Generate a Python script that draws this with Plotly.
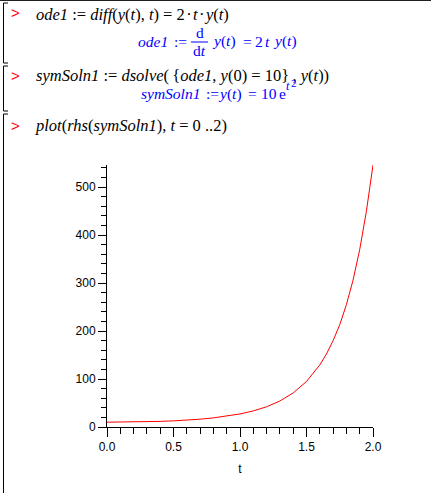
import plotly.graph_objects as go

# ---- data ----
t_vals = [0.0, 0.1, 0.2, 0.3, 0.4, 0.5, 0.6, 0.7, 0.8, 0.9, 1.0,
          1.1, 1.2, 1.3, 1.4, 1.5, 1.6, 1.65, 1.7, 1.75, 1.8, 1.85, 1.9, 1.95, 2.0]
y_vals = [10.0, 10.1, 10.4, 10.9, 11.7, 12.8, 14.3, 16.3, 19.0, 22.5, 27.2,
          33.5, 42.2, 54.2, 71.0, 94.9, 129.4, 152.0, 179.9, 213.3, 255.0, 306.0, 369.6, 449.0, 546.0]
x_tick_vals = [0.0, 0.5, 1.0, 1.5, 2.0]
x_tick_text = ["0.0", "0.5", "1.0", "1.5", "2.0"]
y_tick_vals = [0, 100, 200, 300, 400, 500]
y_tick_text = ["0", "100", "200", "300", "400", "500"]
x_label = "t"

W, H = 431, 493
L, R, T, B = 107, 373, 165, 427


def px(x):
    return (x - L) / (R - L)


def py(y):
    return (B - y) / (B - T)


fig = go.Figure()
fig.add_trace(go.Scatter(x=t_vals, y=y_vals, mode="lines",
                         line=dict(color="#ff0000", width=1), hoverinfo="skip"))

tickfont = dict(family="Liberation Sans, Arial, sans-serif", size=12, color="black")
fig.update_layout(
    width=W, height=H,
    margin=dict(l=L, r=W - R, t=T, b=H - B, pad=0),
    paper_bgcolor="white", plot_bgcolor="white",
    showlegend=False,
    xaxis=dict(range=[0, 2], showgrid=False, zeroline=False, showline=True, automargin=False,
               linecolor="black", linewidth=1, ticks="outside", ticklen=9,
               tickcolor="black", tickwidth=1, tickvals=x_tick_vals, ticktext=x_tick_text,
               tickfont=tickfont,
               minor=dict(dtick=0.1, ticks="outside", ticklen=6, tickcolor="black", tickwidth=1),
               title=dict(text=x_label, font=tickfont, standoff=11)),
    yaxis=dict(range=[0, 546], showgrid=False, zeroline=False, showline=True, automargin=False,
               linecolor="black", linewidth=1, ticks="outside", ticklen=8,
               tickcolor="black", tickwidth=1, tickvals=y_tick_vals, ticktext=y_tick_text,
               tickfont=tickfont,
               minor=dict(dtick=20, ticks="outside", ticklen=5, tickcolor="black", tickwidth=1)),
)

serif = "Liberation Serif, Times New Roman, serif"
FS = 16.5
blk = dict(family=serif, size=FS, color="black")
blue_s = dict(family=serif, size=15.5, color="#0000ff")
red = dict(family="Liberation Sans, Arial, sans-serif", size=15, color="#ff0000")
HS = "\u200a"  # hair space

anns = []


def txt(x, y, s, font, xa="left"):
    anns.append(dict(x=px(x), y=py(y), xref="paper", yref="paper", text=s,
                     showarrow=False, xanchor=xa, yanchor="middle", font=font))


# prompts
for yy in (13, 76, 126):
    txt(9, yy, "&gt;", red)

txt(34, 14, "<i>ode1</i> := <i>diff</i>(<i>y</i>(<i>t</i>), <i>t</i>) = 2" + HS + "·" + HS + "<i>t</i>"
    + HS + "·" + HS + "<i>y</i>(<i>t</i>)", blk)
txt(34, 75.5, "<i>symSoln1</i> := <i>dsolve</i>(\u2009{<i>ode1</i>, <i>y</i>(0) = 10}\u2009"
    ", <i>y</i>(<i>t</i>))", blk)
txt(33, 126, "<i>plot</i>(<i>rhs</i>(<i>symSoln1</i>), <i>t</i> = 0 ..2)", blk)

# output 1
txt(136, 41, "<i>ode1</i>", blue_s)
txt(172, 41, ":=", blue_s)
txt(199.5, 32, "d", blue_s, "center")
txt(199.5, 50, "d<i>t</i>", blue_s, "center")
txt(210, 41, "<i>y</i>(<i>t</i>)", blue_s)
txt(241, 41, "=", blue_s)
txt(253, 41, "2", blue_s)
txt(263, 41, "<i>t</i>", blue_s)
txt(271, 41, "<i>y</i>(<i>t</i>)", blue_s)
# output 2
txt(139, 93.5, "<i>symSoln1</i>", blue_s)
txt(204, 93.5, ":=", blue_s)
txt(216, 93.5, "<i>y</i>(<i>t</i>)", blue_s)
txt(246, 93.5, "=", blue_s)
txt(259, 93.5, "10", blue_s)
txt(277, 93.5, "e", blue_s)
txt(284, 86, "<i>t</i>", dict(family=serif, size=12, color="#0000ff"))
txt(288.5, 83.5, "2", dict(family=serif, size=11, color="#0000ff"))

fig.update_layout(annotations=anns)

shapes = []


def seg(x0, y0, x1, y1, color="black", w=1):
    shapes.append(dict(type="line", xref="paper", yref="paper",
                       x0=px(x0), y0=py(y0), x1=px(x1), y1=py(y1),
                       line=dict(color=color, width=w)))


# fraction bar
seg(191, 42, 208, 42, "#0000ff")
# top window border
seg(0, 0.5, W, 0.5, "#202020", 1)
# brackets
for (y0, y1) in ((3, 63), (66, 111), (114, H + 2)):
    seg(3.5, y0, 3.5, y1)
    seg(3.5, y0, 8, y0)
    if y1 < H:
        seg(3.5, y1, 8, y1)

fig.update_layout(shapes=shapes)

fig.write_html("out.html", config={"displayModeBar": False},
               post_script="document.body.style.margin='0px';document.body.style.overflow='hidden';")
